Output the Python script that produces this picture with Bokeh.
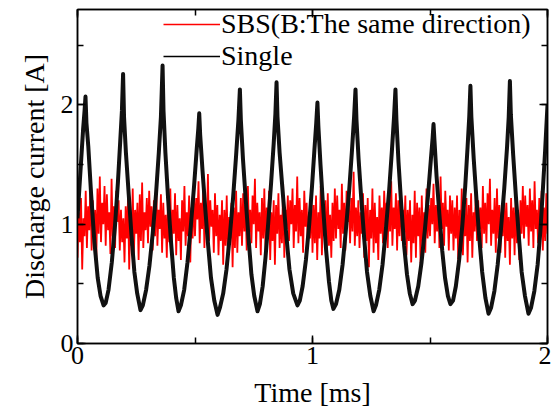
import numpy as np
from bokeh.plotting import figure
from bokeh.models import LinearAxis, Legend, LegendItem, SingleIntervalTicker, CustomJSTickFormatter
from bokeh.embed import file_html
from bokeh.resources import INLINE

# ---- data ----
single_t = [
    0.000, 0.008, 0.016, 0.024, 0.030, 0.034, 0.038, 0.046, 0.058, 0.072, 0.086, 0.098, 0.111,
    0.120, 0.132, 0.146, 0.160, 0.172, 0.182, 0.189, 0.194, 0.198,
    0.206, 0.218, 0.230, 0.242, 0.254, 0.268,
    0.278, 0.292, 0.306, 0.320, 0.334, 0.346, 0.355, 0.362, 0.366,
    0.374, 0.386, 0.398, 0.410, 0.420, 0.430,
    0.440, 0.454, 0.468, 0.482, 0.496, 0.507, 0.514, 0.518, 0.522,
    0.532, 0.544, 0.556, 0.568, 0.582, 0.596,
    0.606, 0.620, 0.634, 0.648, 0.662, 0.675, 0.685, 0.691, 0.695,
    0.704, 0.716, 0.728, 0.740, 0.752, 0.766,
    0.776, 0.788, 0.800, 0.812, 0.824, 0.835, 0.842, 0.847, 0.851,
    0.860, 0.874, 0.888, 0.902, 0.918, 0.936,
    0.946, 0.958, 0.972, 0.986, 0.998, 1.008, 1.016, 1.021, 1.025,
    1.034, 1.046, 1.058, 1.070, 1.080, 1.089,
    1.100, 1.114, 1.128, 1.142, 1.156, 1.168, 1.177, 1.183, 1.187,
    1.196, 1.208, 1.220, 1.232, 1.246, 1.260,
    1.270, 1.284, 1.298, 1.312, 1.326, 1.338, 1.347, 1.353, 1.357,
    1.366, 1.378, 1.390, 1.402, 1.414, 1.426,
    1.436, 1.450, 1.464, 1.478, 1.492, 1.504, 1.511, 1.515, 1.519,
    1.528, 1.540, 1.552, 1.564, 1.576, 1.587,
    1.598, 1.610, 1.624, 1.638, 1.650, 1.660, 1.667, 1.672, 1.676,
    1.686, 1.698, 1.710, 1.722, 1.736, 1.749,
    1.760, 1.774, 1.788, 1.802, 1.816, 1.828, 1.835, 1.840, 1.844,
    1.854, 1.866, 1.878, 1.890, 1.904, 1.919,
    1.930, 1.944, 1.958, 1.970, 1.980, 1.990, 1.996, 2.000,
]
single_i = [
    1.05, 1.30, 1.55, 1.80, 1.95, 2.07, 1.85, 1.65, 1.25, 0.85, 0.55, 0.40, 0.32,
    0.34, 0.45, 0.68, 1.00, 1.35, 1.70, 1.95, 2.26, 1.90,
    1.60, 1.25, 0.90, 0.60, 0.42, 0.28,
    0.32, 0.45, 0.65, 0.92, 1.25, 1.60, 1.90, 2.33, 1.95,
    1.60, 1.20, 0.85, 0.55, 0.38, 0.27,
    0.32, 0.45, 0.68, 0.98, 1.32, 1.62, 1.80, 1.93, 1.75,
    1.45, 1.12, 0.82, 0.55, 0.36, 0.24,
    0.30, 0.42, 0.62, 0.90, 1.22, 1.58, 1.88, 2.13, 1.88,
    1.55, 1.20, 0.88, 0.58, 0.40, 0.27,
    0.33, 0.48, 0.72, 1.02, 1.35, 1.68, 1.92, 2.19, 1.90,
    1.60, 1.25, 0.92, 0.62, 0.42, 0.32,
    0.36, 0.48, 0.70, 1.00, 1.32, 1.62, 1.85, 2.02, 1.82,
    1.50, 1.12, 0.78, 0.52, 0.36, 0.29,
    0.33, 0.45, 0.66, 0.95, 1.28, 1.62, 1.90, 2.13, 1.88,
    1.55, 1.20, 0.88, 0.60, 0.40, 0.27,
    0.32, 0.45, 0.66, 0.95, 1.28, 1.62, 1.90, 2.13, 1.88,
    1.52, 1.15, 0.82, 0.58, 0.42, 0.33,
    0.36, 0.48, 0.68, 0.95, 1.25, 1.55, 1.72, 1.84, 1.70,
    1.40, 1.08, 0.78, 0.55, 0.40, 0.33,
    0.36, 0.48, 0.70, 1.00, 1.32, 1.65, 1.90, 2.16, 1.90,
    1.55, 1.20, 0.88, 0.60, 0.38, 0.25,
    0.30, 0.44, 0.66, 0.96, 1.30, 1.65, 1.90, 2.20, 1.92,
    1.58, 1.22, 0.90, 0.60, 0.40, 0.25,
    0.30, 0.44, 0.66, 0.95, 1.28, 1.62, 1.85, 2.00,
]

sbs_i = [
    0.72,1.10,0.85,1.22,0.62,1.05,0.90,1.28,0.80,1.15,0.95,1.35,0.78,1.20,0.88,1.12,0.70,1.30,0.92,1.40,
    0.85,1.18,1.00,1.32,0.82,1.25,0.95,1.10,0.75,1.38,0.90,1.15,0.80,1.28,1.02,1.20,0.78,1.12,0.85,1.05,
    0.68,1.15,0.88,1.22,0.62,1.08,0.82,1.30,0.75,1.12,0.92,1.18,0.70,1.25,0.86,1.35,0.80,1.10,0.95,1.22,
    0.84,1.28,0.98,1.15,0.78,1.20,0.90,1.38,0.82,1.12,0.96,1.25,0.76,1.18,0.88,1.08,0.72,1.22,0.85,1.30,
    0.80,1.12,0.92,1.26,0.74,1.16,0.86,1.05,0.70,1.20,0.94,1.32,0.82,1.10,0.90,1.24,0.68,1.14,0.88,1.28,
    0.90,1.22,1.04,1.36,0.84,1.18,0.96,1.30,0.80,1.14,0.92,1.42,0.86,1.20,0.98,1.12,0.76,1.26,0.90,1.16,
    0.74,1.08,0.86,1.20,0.66,1.12,0.82,1.24,0.72,1.06,0.88,1.18,0.64,1.14,0.80,1.28,0.76,1.10,0.90,1.22,
    0.82,1.26,0.94,1.16,0.78,1.32,0.92,1.12,0.84,1.24,1.00,1.38,0.80,1.18,0.94,1.10,0.74,1.22,0.88,1.30,
    0.78,1.14,0.90,1.28,0.70,1.10,0.86,1.20,0.66,1.16,0.92,1.26,0.80,1.08,0.84,1.34,0.72,1.12,0.96,1.24,
    0.86,1.20,1.00,1.30,0.80,1.16,0.94,1.40,0.84,1.22,0.90,1.12,0.76,1.28,0.98,1.18,0.82,1.10,0.88,1.26,
    0.76,1.16,0.84,1.24,0.70,1.10,0.88,1.32,0.74,1.14,0.90,1.20,0.68,1.26,0.82,1.08,0.72,1.18,0.86,1.30,
    0.88,1.24,0.96,1.12,0.80,1.34,0.92,1.18,0.78,1.28,1.02,1.16,0.84,1.22,0.94,1.44,0.82,1.14,0.90,1.20,
    0.80,1.10,0.92,1.26,0.72,1.16,0.86,1.22,0.64,1.12,0.88,1.30,0.76,1.18,0.84,1.06,0.70,1.24,0.92,1.14,
    0.84,1.28,0.98,1.18,0.80,1.22,0.94,1.36,0.82,1.14,0.96,1.26,0.78,1.20,0.90,1.32,0.86,1.12,0.92,1.24,
    0.74,1.12,0.86,1.20,0.68,1.08,0.84,1.28,0.72,1.18,0.90,1.14,0.66,1.24,0.82,1.10,0.76,1.30,0.88,1.16,
    0.90,1.22,1.00,1.34,0.84,1.16,0.94,1.26,0.80,1.40,0.96,1.18,0.82,1.28,0.98,1.12,0.78,1.24,0.92,1.20,
    0.78,1.14,0.88,1.24,0.70,1.12,0.84,1.30,0.74,1.08,0.90,1.22,0.68,1.16,0.86,1.26,0.72,1.10,0.94,1.28,
    0.86,1.20,0.96,1.14,0.80,1.32,0.92,1.18,0.84,1.26,1.00,1.38,0.82,1.12,0.92,1.22,0.76,1.30,0.88,1.16,
    0.76,1.10,0.90,1.28,0.72,1.18,0.86,1.06,0.66,1.22,0.88,1.14,0.74,1.26,0.84,1.12,0.70,1.20,0.92,1.32,
    0.88,1.24,0.98,1.16,0.82,1.30,0.94,1.20,0.80,1.36,0.96,1.12,0.84,1.22,0.90,1.28,0.78,1.14,0.86,1.26,
    0.92,
]
sbs_t = np.linspace(0.0, 2.0, len(sbs_i))

x_ticks_interval = 1
y_ticks_interval = 1
label_sbs = "SBS(B:The same direction)"
label_single = "Single"
x_label = "Time [ms]"
y_label = "Discharge current [A]"

FONT = "Liberation Serif"

p = figure(width=551, height=412, x_range=(0, 2), y_range=(0, 2.8),
           output_backend="svg", toolbar_location=None,
           min_border_left=77, min_border_right=4, min_border_top=9, min_border_bottom=69)

r_sbs = p.line(sbs_t, sbs_i, line_color="#ff0000", line_width=1.8)
r_single = p.line(single_t, single_i, line_color="#111111", line_width=4, line_join="round")

# legend-only renderers (single point -> no visible line in the plot)
leg_sbs = p.line(sbs_t[:1], sbs_i[:1], line_color="#ff0000", line_width=1.5)
leg_single = p.line(single_t[:1], single_i[:1], line_color="black", line_width=1.5)

p.grid.visible = False
p.outline_line_color = "black"
p.outline_line_width = 1.5

def style_axis(ax, show_labels=True):
    ax.axis_line_color = "black"
    ax.axis_line_width = 1.5
    ax.major_tick_in = 8
    ax.major_tick_out = 0
    ax.minor_tick_in = 6
    ax.minor_tick_out = 0
    ax.major_tick_line_width = 1.5
    ax.minor_tick_line_width = 1.5
    ax.major_tick_line_color = "black"
    ax.minor_tick_line_color = "black"
    ax.major_label_text_font = FONT
    ax.major_label_text_color = "black"
    ax.axis_label_text_font = FONT
    ax.axis_label_text_font_style = "normal"
    ax.axis_label_text_color = "black"
    ax.axis_label_text_font_size = "28px"
    ax.major_label_text_font_size = "26px"
    if not show_labels:
        ax.formatter = CustomJSTickFormatter(code="return '';")
        ax.major_label_standoff = 0

p.xaxis.ticker = SingleIntervalTicker(interval=x_ticks_interval, num_minor_ticks=2)
p.yaxis.ticker = SingleIntervalTicker(interval=y_ticks_interval, num_minor_ticks=2)
style_axis(p.xaxis[0])
style_axis(p.yaxis[0])
p.xaxis.axis_label = x_label
p.yaxis.axis_label = y_label
p.xaxis.major_label_standoff = 3
p.yaxis.major_label_standoff = 4
p.xaxis.axis_label_standoff = 10
p.yaxis.axis_label_standoff = 8

top_ax = LinearAxis(ticker=SingleIntervalTicker(interval=x_ticks_interval, num_minor_ticks=2))
right_ax = LinearAxis(ticker=SingleIntervalTicker(interval=y_ticks_interval, num_minor_ticks=2))
style_axis(top_ax, show_labels=False)
style_axis(right_ax, show_labels=False)
p.add_layout(top_ax, "above")
p.add_layout(right_ax, "right")

legend = Legend(items=[LegendItem(label=label_sbs, renderers=[leg_sbs]),
                       LegendItem(label=label_single, renderers=[leg_single])],
                location=(86, 271), orientation="vertical",
                glyph_width=57, glyph_height=28, label_height=28,
                label_standoff=1, spacing=0, padding=0, margin=0,
                label_text_font=FONT, label_text_font_size="28px",
                label_text_color="black",
                border_line_alpha=0, background_fill_alpha=0)
p.add_layout(legend)

open("out.html", "w").write(file_html(p, INLINE))
